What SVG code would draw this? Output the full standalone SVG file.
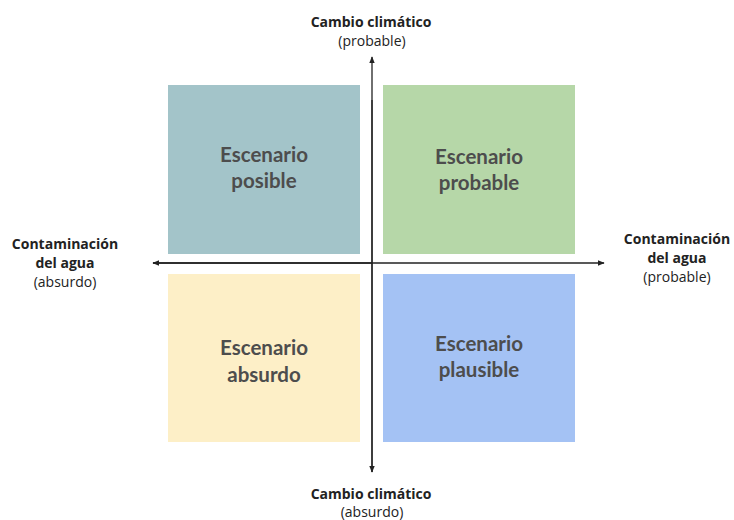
<svg xmlns="http://www.w3.org/2000/svg" width="734" height="520" viewBox="0 0 734 520">
<style>
.box-label{font-family:"Lato","Open Sans",sans-serif;font-weight:700;font-size:20.5px;fill:#4d4d4d;text-anchor:middle}
.ax{font-family:"Open Sans","Lato",sans-serif;font-size:14px;fill:#222;text-anchor:middle}
.b{font-weight:700}
.axis{stroke:#222;stroke-width:1.3;fill:none}
</style>
<defs>
<marker id="arr" viewBox="0 0 10 10" refX="9" refY="5" markerWidth="7" markerHeight="7" orient="auto" markerUnits="userSpaceOnUse">
<path d="M0,1 L10,5 L0,9 z" fill="#222"/>
</marker>
</defs>
<rect width="734" height="520" fill="#fff"/>
<g id="q-posible">
<rect x="168" y="85" width="192" height="169" fill="#a3c4c9"/>
<text class="box-label" x="264" y="162">Escenario</text>
<text class="box-label" x="264" y="188">posible</text>
</g>
<g id="q-probable">
<rect x="383" y="85" width="192" height="169" fill="#b6d7a8"/>
<text class="box-label" x="479" y="164">Escenario</text>
<text class="box-label" x="479" y="190">probable</text>
</g>
<g id="q-absurdo">
<rect x="168" y="274" width="192" height="168" fill="#fdefc7"/>
<text class="box-label" x="264" y="355">Escenario</text>
<text class="box-label" x="264" y="382">absurdo</text>
</g>
<g id="q-plausible">
<rect x="383" y="274" width="192" height="168" fill="#a4c2f4"/>
<text class="box-label" x="479" y="351">Escenario</text>
<text class="box-label" x="479" y="377">plausible</text>
</g>
<g id="connectors">
<line class="axis" x1="372" y1="472" x2="372" y2="57" marker-end="url(#arr)"/>
<line class="axis" x1="372" y1="100" x2="372" y2="472" marker-end="url(#arr)"/>
<line class="axis" x1="372" y1="263" x2="153" y2="263" marker-end="url(#arr)"/>
<line class="axis" x1="153" y1="263" x2="604" y2="263" marker-end="url(#arr)"/>
</g>
<g id="label-top">
<text class="ax b" x="371" y="27">Cambio climático</text>
<text class="ax" x="372" y="46">(probable)</text>
</g>
<g id="label-bottom">
<text class="ax b" x="371" y="499">Cambio climático</text>
<text class="ax" x="372" y="517">(absurdo)</text>
</g>
<g id="label-left">
<text class="ax b" x="65" y="249">Contaminación</text>
<text class="ax b" x="65" y="268">del agua</text>
<text class="ax" x="65" y="287">(absurdo)</text>
</g>
<g id="label-right">
<text class="ax b" x="677" y="244">Contaminación</text>
<text class="ax b" x="677" y="263">del agua</text>
<text class="ax" x="677" y="282">(probable)</text>
</g>
</svg>
